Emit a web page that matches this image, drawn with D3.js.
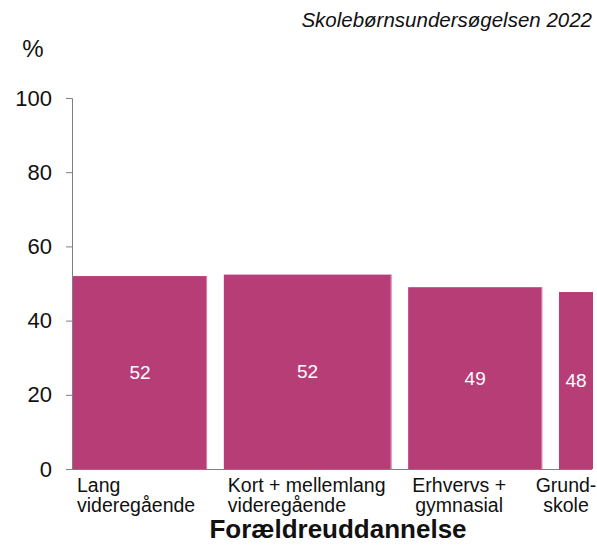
<!DOCTYPE html>
<html>
<head>
<meta charset="utf-8">
<script src="https://cdn.jsdelivr.net/npm/d3@7"></script>
<style>
  body { margin: 0; background: #fff; }
  text { font-family: "Liberation Sans", Arial, sans-serif; }
</style>
</head>
<body>
<div id="chart"></div>
<script>
// Data
const categories = [["Lang", "videregående"], ["Kort + mellemlang", "videregående"], ["Erhvervs +", "gymnasial"], ["Grund-", "skole"]];
const values = [52.0, 52.4, 49.0, 47.7];
const valueLabels = ["52", "52", "49", "48"];
const groupShares = [24, 30, 24, 24]; // relative bar widths
const yTicks = [0, 20, 40, 60, 80, 100];

const width = 597, height = 546;
const margin = { left: 72, right: 4, top: 98, bottom: 77 };
const innerWidth = width - margin.left - margin.right;
const innerHeight = height - margin.top - margin.bottom;
const barColor = "#b73d77";
const gapUnits = 3;

const svg = d3.select("#chart")
    .append("svg")
    .attr("width", width)
    .attr("height", height);

const inner = svg.append("g")
    .attr("transform", `translate(${margin.left},${margin.top})`);

// x in "share units": bars laid out one after another with a fixed gap
const starts = [];
let acc = 0;
groupShares.forEach((s, i) => { starts.push(acc); acc += s + gapUnits; });

const xScale = d3.scaleLinear()
    .domain([0, 1])
    .range([1, 1 + 5.586]);
const yScale = d3.scaleLinear()
    .domain([0, 100])
    .range([innerHeight, 0]);

inner.append("clipPath").attr("id", "plot-clip")
    .append("rect")
    .attr("x", 0).attr("y", -5)
    .attr("width", innerWidth).attr("height", innerHeight + 5);

const bars = inner.append("g").attr("clip-path", "url(#plot-clip)");

values.forEach((v, i) => {
    const x0 = xScale(starts[i]);
    const x1 = xScale(starts[i] + groupShares[i]);
    bars.append("rect")
        .attr("x", x0)
        .attr("y", yScale(v))
        .attr("width", x1 - x0)
        .attr("height", innerHeight - yScale(v))
        .attr("fill", barColor);
    // light edge on the right side
    bars.append("line")
        .attr("x1", x1 - 0.5).attr("x2", x1 - 0.5)
        .attr("y1", yScale(v)).attr("y2", innerHeight)
        .attr("stroke", "#d488ad").attr("stroke-width", 1);

    const visibleEnd = Math.min(x1, innerWidth);
    inner.append("text")
        .attr("x", (x0 + visibleEnd) / 2)
        .attr("y", yScale(v / 2))
        .attr("dy", "0.35em")
        .attr("text-anchor", "middle")
        .attr("fill", "#fff")
        .attr("font-size", 19)
        .text(valueLabels[i]);

    // category labels under the axis
    const lab = inner.append("text")
        .attr("font-size", 19.5)
        .attr("fill", "#111");
    let lx, anchor;
    if (i < 2) { lx = x0 + 4; anchor = "start"; }
    else if (i === 2) { lx = x0 + 51; anchor = "middle"; }
    else { lx = x0 + 7; anchor = "middle"; }
    lab.attr("text-anchor", anchor);
    categories[i].forEach((line, j) => {
        lab.append("tspan")
            .attr("x", lx)
            .attr("y", innerHeight + 23 + j * 20)
            .text(line);
    });
});

// y axis
const leftAxis = d3.axisLeft(yScale)
    .tickValues(yTicks)
    .tickSize(6)
    .tickSizeOuter(6)
    .tickPadding(14);
const yAxis = inner.append("g").call(leftAxis);
yAxis.selectAll("text")
    .attr("font-size", 22)
    .attr("fill", "#111")
    .style("font-family", "'Liberation Sans', Arial, sans-serif");
yAxis.selectAll("path, line").attr("stroke", "#7f7f7f");

// x axis line
inner.append("line")
    .attr("x1", 0).attr("x2", innerWidth - 1)
    .attr("y1", innerHeight + 0.5).attr("y2", innerHeight + 0.5)
    .attr("stroke", "#7f7f7f");

svg.append("text")
    .text("%")
    .attr("x", 33)
    .attr("y", 57)
    .attr("text-anchor", "middle")
    .attr("font-size", 24)
    .attr("fill", "#111");

svg.append("text")
    .text("Skolebørnsundersøgelsen 2022")
    .attr("x", 592)
    .attr("y", 27)
    .attr("text-anchor", "end")
    .attr("font-style", "italic")
    .attr("font-size", 20.5)
    .attr("fill", "#111");

svg.append("text")
    .text("Forældreuddannelse")
    .attr("x", 338)
    .attr("y", 538)
    .attr("text-anchor", "middle")
    .attr("font-weight", "bold")
    .attr("font-size", 26)
    .attr("fill", "#111");
</script>
</body>
</html>
